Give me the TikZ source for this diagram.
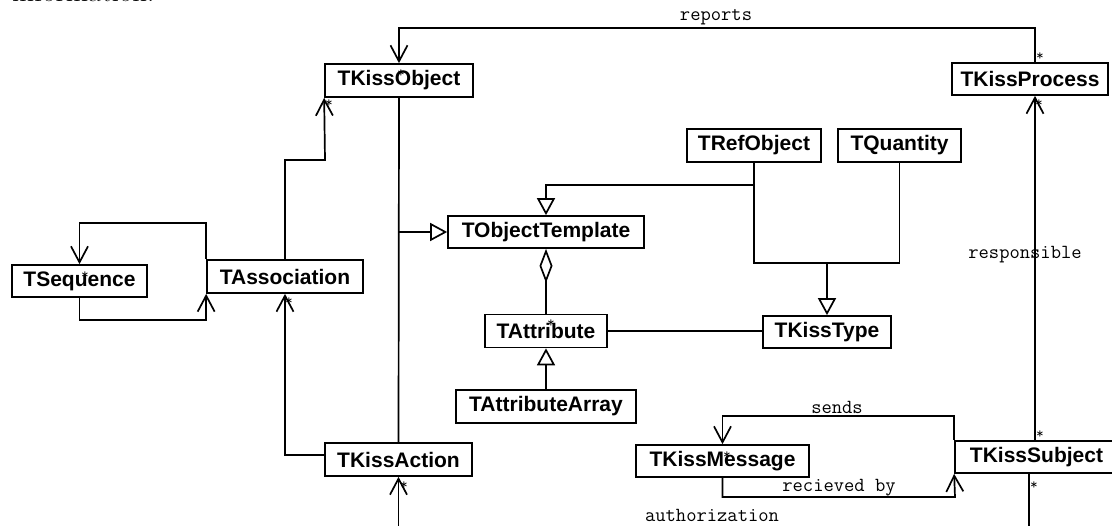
\documentclass[tikz,border=0pt]{standalone}
\usepackage{fontspec}
\newfontfamily\sansb{Liberation Sans}
\usetikzlibrary{arrows.meta}
\tikzset{
  cls/.style={draw, line width=1.7pt, fill=white, inner sep=0pt,
    font=\sansb\bfseries\fontsize{21}{24}\selectfont},
  lbl/.style={font=\ttfamily\fontsize{20}{22}\selectfont, inner sep=0pt},
  mult/.style={font=\ttfamily\fontsize{15}{16}\selectfont, inner sep=0pt},
  conn/.style={line width=1.7pt},
  oarrow/.style={conn, -{Straight Barb[length=16pt,width=17pt]}},
  gen/.style={conn, -{Triangle[length=17pt,width=18pt,fill=white]}},
  agg/.style={conn, -{Diamond[length=34pt,width=13pt,fill=white]}}
}
\begin{document}
\begin{tikzpicture}[x=1pt,y=-1pt]
\useasboundingbox (0,0) rectangle (1112,526);
\clip (0,0) rectangle (1112,526);
\fill[white] (0,0) rectangle (1112,526);
\node[anchor=base west, inner sep=0pt, font=\fontsize{29}{32}\selectfont] (info) at (12,2) {information.};
% classes
\node[cls, minimum width=148pt, minimum height=33pt] (ko) at (399,80.5) {TKissObject};
\node[cls, minimum width=156pt, minimum height=32pt] (kp) at (1030,79) {TKissProcess};
\node[cls, minimum width=134pt, minimum height=33pt] (ro) at (754,145.5) {TRefObject};
\node[cls, minimum width=123pt, minimum height=33pt] (qu) at (899.5,145.5) {TQuantity};
\node[cls, minimum width=196pt, minimum height=32pt] (ot) at (546,232) {TObjectTemplate};
\node[cls, minimum width=135pt, minimum height=32pt] (sq) at (79.5,281) {TSequence};
\node[cls, minimum width=156pt, minimum height=33pt] (as) at (285,276.5) {TAssociation};
\node[cls, minimum width=122pt, minimum height=33pt] (at) at (546,331) {TAttribute};
\node[cls, minimum width=128pt, minimum height=32pt] (kt) at (827,332) {TKissType};
\node[cls, minimum width=180pt, minimum height=33pt] (aa) at (546,406.5) {TAttributeArray};
\node[cls, minimum width=147pt, minimum height=33pt] (ka) at (398.5,459.5) {TKissAction};
\node[cls, minimum width=173pt, minimum height=32pt] (km) at (722.5,461) {TKissMessage};
\node[cls, minimum width=163pt, minimum height=32pt] (ks) at (1036.5,457) {TKissSubject};
% helper coordinates
\coordinate (r1) at (1035,28);
\coordinate (r2) at (399,28);
\coordinate (g1) at (398,232);
\coordinate (j1) at (754,185);
\coordinate (j2) at (754,263);
\coordinate (j3) at (899.5,263);
\coordinate (j4) at (827,263);
\coordinate (c2) at (325,160);
\coordinate (c3) at (79.5,223);
\coordinate (c4) at (79.5,320);
\coordinate (c5) at (285,455);
\coordinate (c6) at (1035,0);
\coordinate (c7) at (722.5,416);
\coordinate (c8) at (955,497);
\coordinate (e1) at (1029,540);
\coordinate (e2) at (398.5,540);
% connectors
\draw[oarrow] (kp.north -| r1) -- (r1) -- (r2) -- (ko.north);
\draw[conn] (ko.south) -- (ka.north);
\draw[gen] (g1) -- (ot.west);
\draw[conn] (ro.south) -- (j2) -- (j3) -- (qu.south);
\draw[gen] (j1) -| (ot.north);
\draw[gen] (j4) -- (kt.north);
\draw[agg] (at.north) -- (ot.south);
\draw[conn] (at.east) -- (at.east -| kt.west);
\draw[gen] (aa.north) -- (at.south);
\draw[oarrow] (as.north) |- (c2) -- (ko.south west);
\draw[oarrow] (as.north west) |- (c3) -- (sq.north);
\draw[oarrow] (sq.south) -- (c4) -| (as.south west);
\draw[oarrow] (ka.west |- c5) -| (as.south);
\draw[oarrow] (ks.north -| c6) -- (kp.south -| c6);
\draw[oarrow] (ks.north west) |- (c7) -- (km.north);
\draw[oarrow] (km.south) |- (c8) -- (ks.south west);
\draw[conn] (ks.south -| e1) -- (e1);
\draw[oarrow] (e2) -- (ka.south);
% labels
\node[lbl] (lrep) at (716,17) {reports};
\node[lbl] (lresp) at (1025,255) {responsible};
\node[lbl] (lsend) at (837,407) {sends};
\node[lbl] (lrec) at (839,488) {recieved by};
\node[lbl] (lauth) at (712,515) {authorization};
% multiplicities
\node[mult] (m1) at (1040,57) {*};
\node[mult] (m2) at (1039,104) {*};
\node[mult] (m3) at (1040,435) {*};
\node[mult] (m4) at (1034,486) {*};
\node[mult] (m5) at (404,486) {*};
\node[mult] (m6) at (329,104) {*};
\node[mult] (m7) at (401,74) {*};
\node[mult] (m8) at (85,276) {*};
\node[mult] (m9) at (289,302) {*};
\node[mult] (m10) at (551,324) {*};
\node[mult] (m11) at (727,456) {*};
\end{tikzpicture}
\end{document}
